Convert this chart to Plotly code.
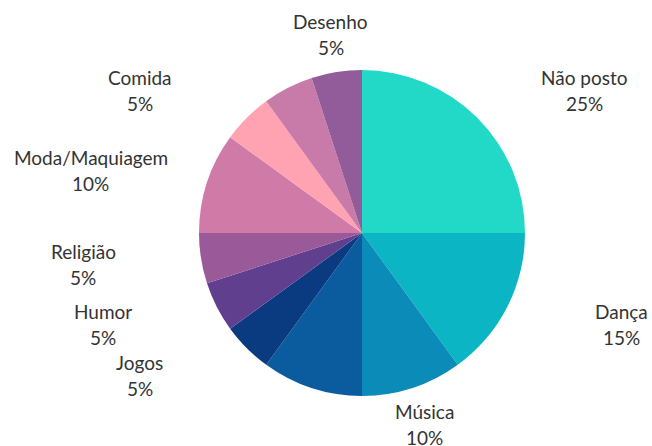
import math
import plotly.graph_objects as go

# Slices, clockwise from 12 o'clock
labels = ["Não posto", "Dança", "Música", "Sem rótulo 1", "Jogos", "Humor",
          "Religião", "Moda/Maquiagem", "Comida", "Sem rótulo 2", "Desenho"]
values = [25, 15, 10, 10, 5, 5, 5, 10, 5, 5, 5]
show_label = [True, True, True, False, True, True, True, True, True, False, True]
colors = ["#22D9C8", "#0BB5C4", "#0A8BB8", "#0A5C9E", "#0A3A80", "#60408E",
          "#9A5A9A", "#D07AA8", "#FFA2B2", "#C87AA8", "#925C9A"]

W, H = 652, 446
CX, CY, R = 362, 233, 163      # pie centre / radius in px
LABEL_R = 201                  # distance of label block from centre
LABEL_SHIFT = 80               # extra horizontal push for side labels
LINE_GAP = 13                  # half distance between name and percent lines

fig = go.Figure(go.Pie(
    labels=labels,
    values=values,
    sort=False,
    direction="clockwise",
    rotation=0,
    marker=dict(colors=colors, line=dict(width=0)),
    textinfo="none",
    hovertemplate="%{label}: %{percent}<extra></extra>",
    domain=dict(x=[(CX - R) / W, (CX + R) / W],
                y=[1 - (CY + R) / H, 1 - (CY - R) / H]),
    showlegend=False,
))

# Labels placed from each slice's mid angle
total = sum(values)
cum = 0
font = dict(family="Lato, 'Open Sans', sans-serif", size=19, color="#333333")
for lab, val, show in zip(labels, values, show_label):
    mid = (cum + val / 2) / total * 2 * math.pi
    cum += val
    if not show:
        continue
    s, c = math.sin(mid), math.cos(mid)
    px = CX + LABEL_R * s
    if abs(s) > 0.5:
        px += LABEL_SHIFT * (1 if s > 0 else -1)
    py = CY - LABEL_R * c
    pct = f"{round(val / total * 100)}%"
    for txt, yy in ((lab, py - LINE_GAP), (pct, py + LINE_GAP)):
        fig.add_annotation(
            text=txt, xref="paper", yref="paper",
            x=px / W, y=1 - yy / H,
            xanchor="center", yanchor="middle",
            showarrow=False, font=font,
        )

fig.update_layout(
    width=W, height=H,
    margin=dict(l=0, r=0, t=0, b=0),
    paper_bgcolor="white",
    plot_bgcolor="white",
)

# drop the browser's default body margin so the figure sits at 0,0
fig.write_html(
    "out.html",
    config={"displayModeBar": False},
    post_script="document.body.style.margin='0';",
)
